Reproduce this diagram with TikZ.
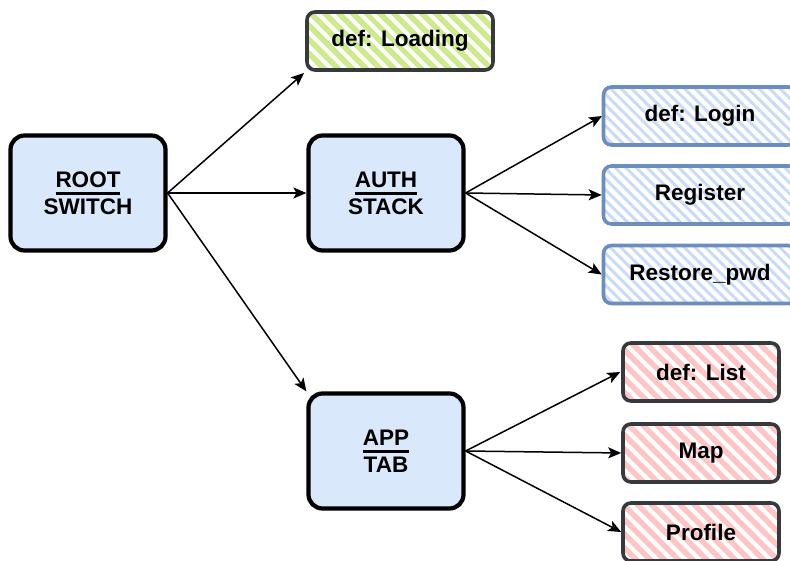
\documentclass[tikz,border=0pt]{standalone}
\usepackage{fontspec}
\setmainfont{Liberation Sans}
\usetikzlibrary{patterns.meta,arrows.meta}
\definecolor{mainfill}{HTML}{DAE8FC}
\definecolor{blueline}{HTML}{6C8EBF}
\definecolor{bluehatch}{HTML}{C9DBF6}
\definecolor{darkline}{HTML}{36393D}
\definecolor{greenhatch}{HTML}{CDEB8B}
\definecolor{redhatch}{HTML}{FFC4C4}
\newcommand\headul[1]{\setbox0\hbox{#1}\rlap{\rule[-7.5pt]{\wd0}{2.4pt}}\box0}
\tikzset{
  x=1pt, y=1pt,
  labelfont/.style={font=\fontsize{22.5}{27}\selectfont\bfseries, text=black},
  mainbox/.style={labelfont, draw=black, line width=4.2pt, fill=mainfill,
    rounded corners=14pt, minimum width=155pt, minimum height=115pt, align=center,
    inner sep=0pt},
  leafbox/.style={labelfont, line width=3.6pt, rounded corners=8pt,
    minimum height=58pt, inner sep=0pt},
  greenleaf/.style={leafbox, draw=darkline,
    pattern={Lines[angle=-45,distance=10.5pt,line width=6pt]}, pattern color=greenhatch},
  blueleaf/.style={leafbox, draw=blueline,
    pattern={Lines[angle=-45,distance=7.5pt,line width=3pt]}, pattern color=bluehatch},
  redleaf/.style={leafbox, draw=darkline,
    pattern={Lines[angle=-45,distance=10pt,line width=5.5pt]}, pattern color=redhatch},
  link/.style={draw=black, line width=1.5pt,
    -{Stealth[length=13pt,width=11pt,inset=3pt]}},
}
\begin{document}
\begin{tikzpicture}
  \useasboundingbox (0,0) rectangle (790,560);
  \clip (0,0) rectangle (790,560);

  % navigators
  \node[mainbox] (root) at (88,367) {\headul{ROOT}\\SWITCH};
  \node[mainbox] (auth) at (386,367) {\headul{AUTH}\\STACK};
  \node[mainbox] (app)  at (386,109) {\headul{APP}\\TAB};

  % screens
  \node[greenleaf, minimum width=186pt] (loading) at (400,519) {def: Loading};

  \node[blueleaf, minimum width=193pt] (login)    at (700,444)   {def: Login};
  \node[blueleaf, minimum width=193pt] (register) at (700,365)   {Register};
  \node[blueleaf, minimum width=193pt] (restore)  at (700,285.5) {Restore\_pwd};

  \node[redleaf, minimum width=156pt] (list)    at (701,188) {def: List};
  \node[redleaf, minimum width=156pt] (map)     at (701,107) {Map};
  \node[redleaf, minimum width=156pt] (profile) at (701,28)  {Profile};

  % connectors
  \draw[link] (root.east) -- (loading.south west);
  \draw[link] (root.east) -- (auth.west);
  \draw[link] (root.east) -- (app.north west);

  \draw[link] (auth.east) -- (login.west);
  \draw[link] (auth.east) -- (register.west);
  \draw[link] (auth.east) -- (restore.west);

  \draw[link] (app.east) -- (list.west);
  \draw[link] (app.east) -- (map.west);
  \draw[link] (app.east) -- (profile.west);
\end{tikzpicture}
\end{document}
